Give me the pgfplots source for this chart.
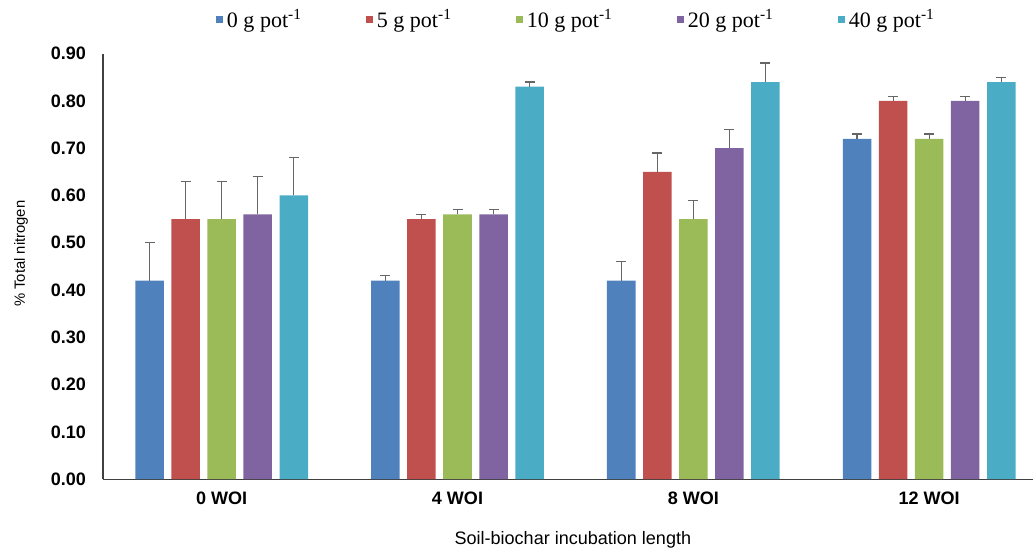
\documentclass[border=0pt]{standalone}
\usepackage{pgfplots}
\pgfplotsset{compat=1.18}
\usepackage{pgfplotstable}
\usepackage{fontspec}
\setmainfont{Liberation Serif}
\newfontfamily\arial{Liberation Sans}
\definecolor{cA}{HTML}{4F81BD}
\definecolor{cB}{HTML}{C0504D}
\definecolor{cC}{HTML}{9BBB59}
\definecolor{cD}{HTML}{8064A2}
\definecolor{cE}{HTML}{4BACC6}
\pgfplotstableread{
x y e
0 0.42 0.08
1 0.42 0.01
2 0.42 0.04
3 0.72 0.01
}\tA
\pgfplotstableread{
x y e
0 0.55 0.08
1 0.55 0.01
2 0.65 0.04
3 0.80 0.01
}\tB
\pgfplotstableread{
x y e
0 0.55 0.08
1 0.56 0.01
2 0.55 0.04
3 0.72 0.01
}\tC
\pgfplotstableread{
x y e
0 0.56 0.08
1 0.56 0.01
2 0.70 0.04
3 0.80 0.01
}\tD
\pgfplotstableread{
x y e
0 0.60 0.08
1 0.83 0.01
2 0.84 0.04
3 0.84 0.01
}\tE
\begin{document}
\begin{tikzpicture}
\begin{axis}[
  scale only axis,
  width=464.5pt, height=212.5pt,
  xmin=-0.503, xmax=3.442,
  ymin=0, ymax=0.9,
  axis x line*=bottom, axis y line*=left,
  axis line style={black!75, line width=0.6pt},
  xtick={0,1,2,3},
  xticklabels={0 WOI,4 WOI,8 WOI,12 WOI},
  ytick={0,0.1,...,0.9},
  major tick length=0pt,
  /pgf/number format/assume math mode=true,
  yticklabel style={/pgf/number format/.cd, fixed, fixed zerofill, precision=2, /tikz/.cd, font=\arial\bfseries\fontsize{9}{10}\selectfont, xshift=-5pt},
  xticklabel style={font=\arial\bfseries\fontsize{9}{10}\selectfont, yshift=-3pt},
  xlabel={Soil-biochar incubation length},
  xlabel style={font=\arial\fontsize{9}{10}\selectfont, at={(axis description cs:0.505,0)}, anchor=center, yshift=-30.5pt, inner xsep=0pt, inner ysep=2.5pt},
  ylabel={\% Total nitrogen},
  ylabel style={font=\arial\fontsize{7.4}{9}\selectfont, at={(axis description cs:0,0.53)}, anchor=center, yshift=41pt, inner sep=7pt},
  ybar=3.75pt,
  bar width=14.25pt,
  legend columns=5,
  legend style={at={(axis description cs:0.51,1)}, anchor=center, yshift=17pt, draw=none, inner xsep=0pt, inner ysep=2.5pt, font=\fontsize{11}{12}\selectfont, column sep=0pt, /tikz/every even column/.append style={column sep=30pt}},
  legend image code/.code={\fill[#1,draw=none] (0pt,-1.7pt) rectangle (3.4pt,1.7pt);},
  error bars/y dir=plus, error bars/y explicit,
  error bars/error bar style={black!60, line width=0.6pt},
  error bars/error mark options={black!60, rotate=90, mark size=2.5pt, line width=0.6pt},
  clip=false,
]
\addplot[fill=cA, draw=none] table[x=x,y=y,y error=e]{\tA};
\addplot[fill=cB, draw=none] table[x=x,y=y,y error=e]{\tB};
\addplot[fill=cC, draw=none] table[x=x,y=y,y error=e]{\tC};
\addplot[fill=cD, draw=none] table[x=x,y=y,y error=e]{\tD};
\addplot[fill=cE, draw=none] table[x=x,y=y,y error=e]{\tE};
\legend{0 g pot\textsuperscript{-1}, 5 g pot\textsuperscript{-1}, 10 g pot\textsuperscript{-1}, 20 g pot\textsuperscript{-1}, 40 g pot\textsuperscript{-1}}
\end{axis}
\end{tikzpicture}
\end{document}
